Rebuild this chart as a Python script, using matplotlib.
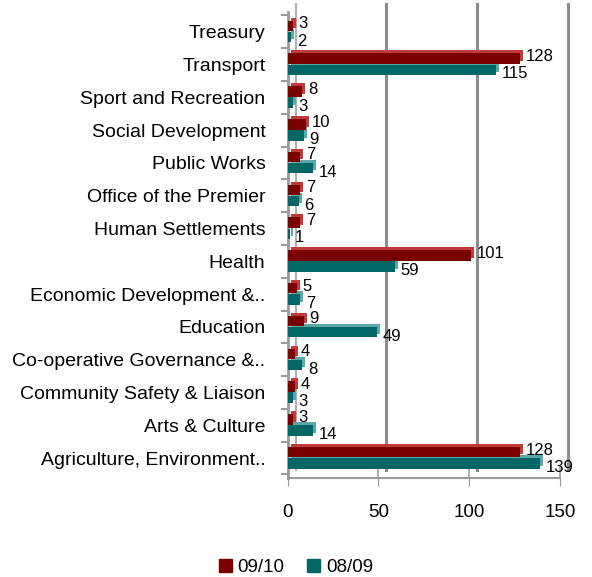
import matplotlib
matplotlib.use("Agg")
import matplotlib.pyplot as plt
import matplotlib.transforms as mtransforms
from matplotlib.patches import Patch
import numpy as np

plt.rcParams["font.family"] = ["Liberation Sans", "DejaVu Sans"]

departments = ["Treasury", "Transport", "Sport and Recreation", "Social Development",
               "Public Works", "Office of the Premier", "Human Settlements", "Health",
               "Economic Development &..", "Education", "Co-operative Governance &..",
               "Community Safety & Liaison", "Arts & Culture", "Agriculture, Environment.."]
y0910 = [3, 128, 8, 10, 7, 7, 7, 101, 5, 9, 4, 4, 3, 128]
y0809 = [2, 115, 3, 9, 14, 6, 1, 59, 7, 49, 8, 3, 14, 139]

red, red_top = "#7a0000", "#c03a3a"
teal, teal_top = "#006666", "#5aa8a8"

fig = plt.figure(figsize=(5.92, 5.77), dpi=100)
ax = fig.add_axes([0.486, 0.172, 0.46, 0.807])

n = len(departments)
pos = np.arange(n)[::-1]
h = 0.32

# thin depth faces drawn behind each bar, shifted up/right a few pixels
shift = mtransforms.ScaledTranslation(3 / 100, 3 / 100, fig.dpi_scale_trans)
for vals, yy, c in [(y0910, pos + h / 2 + 0.02, red_top), (y0809, pos - h / 2, teal_top)]:
    back = ax.barh(yy, vals, height=h, color=c, zorder=2)
    for p in back:
        p.set_transform(ax.transData + shift)

ax.barh(pos + h / 2 + 0.02, y0910, height=h, color=red, zorder=3, label="09/10")
ax.barh(pos - h / 2, y0809, height=h, color=teal, zorder=3, label="08/09")

for y, v in zip(pos, y0910):
    ax.annotate(str(v), (v, y + h / 2), xytext=(4, 2), textcoords="offset points",
                ha="left", va="center", fontsize=12, zorder=5)
for y, v in zip(pos, y0809):
    ax.annotate(str(v), (v, y - h / 2), xytext=(4, -3), textcoords="offset points",
                ha="left", va="center", fontsize=12, zorder=5)

ax.set_xlim(0, 150)
ax.set_ylim(-0.6, n - 0.4)

# back-wall gridlines
wall = mtransforms.ScaledTranslation(8 / 100, 8 / 100, fig.dpi_scale_trans)
for x in [50, 100, 150]:
    ax.plot([x, x], [0, 1], transform=ax.get_xaxis_transform() + wall,
            color="#8c8c8c", lw=2.2, zorder=1, clip_on=False)
ax.plot([0, 0], [0, 1], transform=ax.get_xaxis_transform() + wall,
        color="#b0b0b0", lw=1.5, zorder=1, clip_on=False)
for x in [0, 50, 100, 150]:
    ax.plot([x, x], [0, 0.02], transform=ax.get_xaxis_transform(),
            color="#a0a0a0", lw=1.2, clip_on=False, zorder=1)

for s in ["top", "right"]:
    ax.spines[s].set_visible(False)
ax.spines["left"].set_color("#9a9a9a")
ax.spines["left"].set_linewidth(2)
ax.spines["bottom"].set_color("#9a9a9a")
ax.spines["bottom"].set_linewidth(1.5)

ax.set_xticks([0, 50, 100, 150])
ax.tick_params(axis="x", length=6, color="#9a9a9a", labelsize=13.5, pad=13)
ax.set_yticks(pos)
ax.set_yticklabels(departments, fontsize=14)
ax.tick_params(axis="y", length=0, pad=16)
ax.set_yticks(np.arange(n + 1) - 0.5, minor=True)
ax.tick_params(axis="y", which="minor", length=5, color="#9a9a9a", width=1.5)

handles = [Patch(color=red, label="09/10"), Patch(color=teal, label="08/09")]
fig.legend(handles=handles, loc="center", bbox_to_anchor=(0.5, 0.017), ncol=2,
           frameon=False, fontsize=13.5, handlelength=0.7, handleheight=0.7,
           handletextpad=0.3, columnspacing=1.2)

fig.savefig("out.png", dpi=100)
